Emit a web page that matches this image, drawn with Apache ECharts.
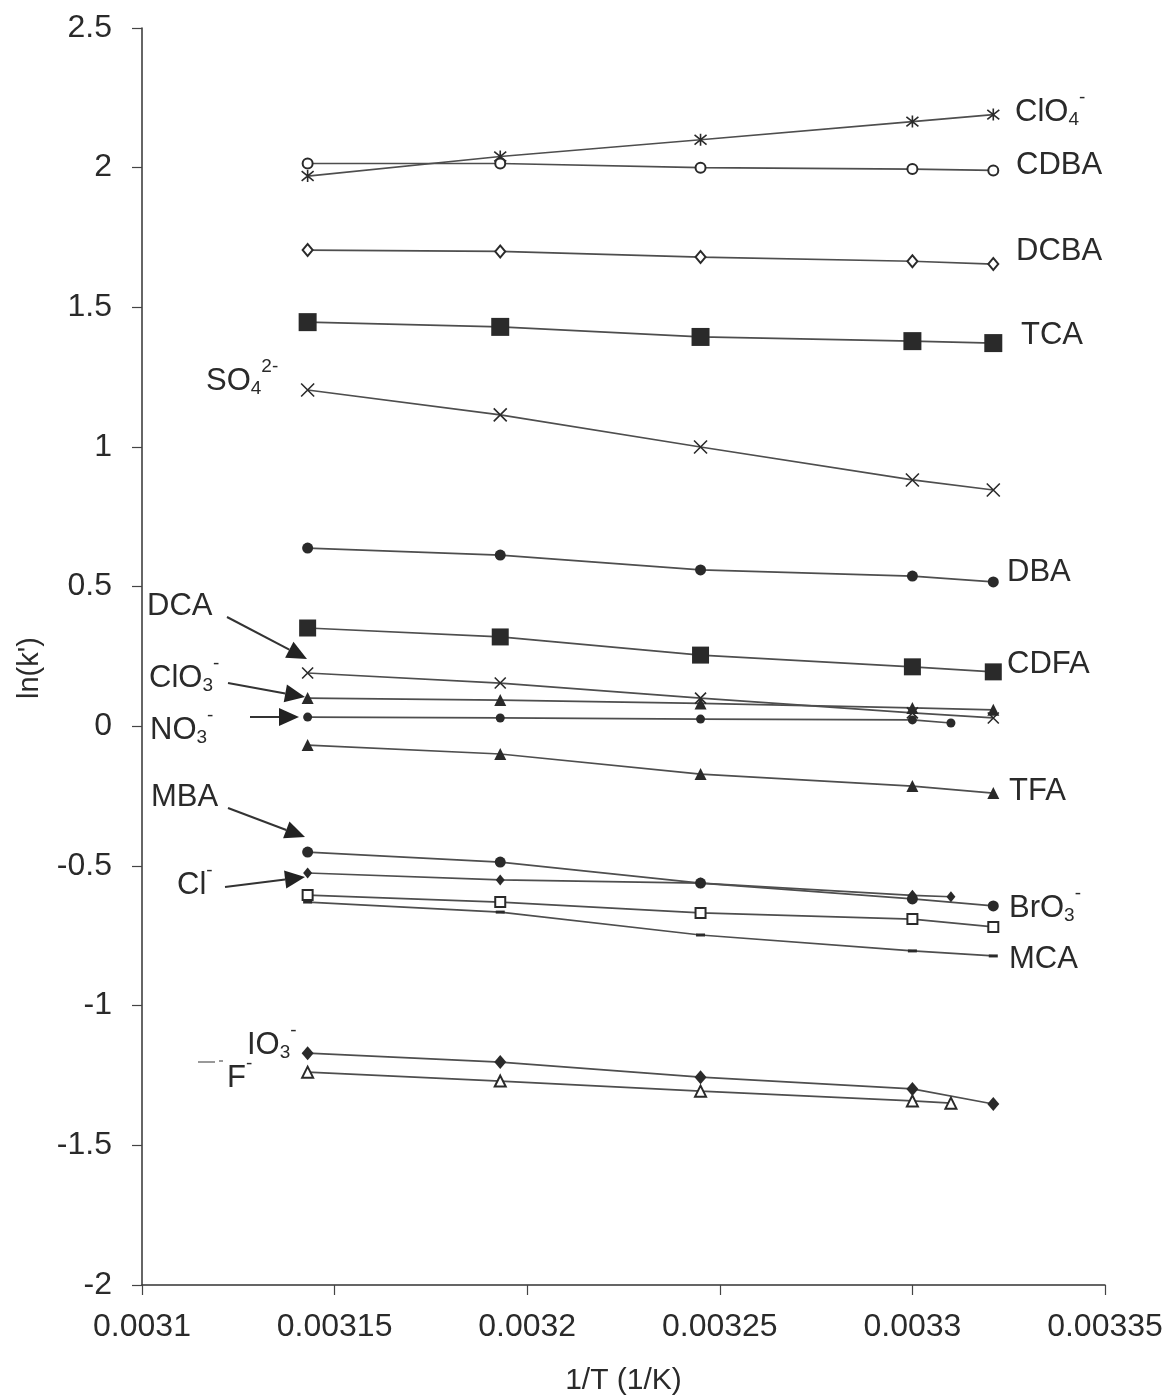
<!DOCTYPE html>
<html>
<head>
<meta charset="utf-8">
<script src="https://cdn.jsdelivr.net/npm/echarts@6/dist/echarts.min.js"></script>
<style>
  html, body { margin: 0; padding: 0; background: #fff; }
  #chart { width: 1171px; height: 1400px; }
</style>
</head>
<body>
<div id="chart"></div>
<script>
// Reciprocal column temperatures, 1/T (1/K)
const invT = [0.003143, 0.003193, 0.003245, 0.0033, 0.003321];
const invTWithExtra = [0.003143, 0.003193, 0.003245, 0.0033, 0.00331];

// Axis ticks
const xTicks = [0.0031, 0.00315, 0.0032, 0.00325, 0.0033, 0.00335];
const yTicks = [-2, -1.5, -1, -0.5, 0, 0.5, 1, 1.5, 2, 2.5];

// ln(k') for each analyte
const lnK_ClO4 = [1.97, 2.04, 2.10, 2.165, 2.19];
const lnK_CDBA = [2.015, 2.015, 2.0, 1.995, 1.99];
const lnK_DCBA = [1.705, 1.70, 1.68, 1.665, 1.655];
const lnK_TCA  = [1.447, 1.43, 1.394, 1.379, 1.372];
const lnK_SO4  = [1.204, 1.115, 1.0, 0.882, 0.846];
const lnK_DBA  = [0.638, 0.613, 0.56, 0.538, 0.517];
const lnK_CDFA = [0.352, 0.32, 0.255, 0.213, 0.195];
const lnK_DCA  = [0.191, 0.155, 0.101, 0.048, 0.03];
const lnK_ClO3 = [0.101, 0.094, 0.082, 0.066, 0.059];
const lnK_NO3  = [0.033, 0.03, 0.026, 0.023, 0.012];
const lnK_TFA  = [-0.067, -0.099, -0.171, -0.214, -0.239];
const lnK_MBA  = [-0.45, -0.486, -0.561, -0.618, -0.643];
const lnK_Cl   = [-0.525, -0.55, -0.561, -0.605, -0.61];
const lnK_BrO3 = [-0.604, -0.629, -0.668, -0.69, -0.718];
const lnK_MCA  = [-0.629, -0.665, -0.747, -0.804, -0.822];
const lnK_IO3  = [-1.17, -1.202, -1.256, -1.298, -1.352];
const lnK_F    = [-1.238, -1.27, -1.306, -1.341, -1.349];

const INK = '#2a2a2a';
const LINE = '#4e4e4e';
const FONT = '"Liberation Sans", Arial, sans-serif';

const SYM_ASTERISK = 'path://M1,1L9,9M9,1L1,9M5,0L5,10';
const SYM_CROSS = 'path://M0,0L10,10M10,0L0,10';

function pairs(xs, ys) { return ys.map((v, i) => [xs[i], v]); }

function lineSeries(name, xs, ys, symbol, size, opts) {
  opts = opts || {};
  return {
    name: name,
    type: 'line',
    data: pairs(xs, ys),
    symbol: symbol,
    symbolSize: size,
    showAllSymbol: true,
    lineStyle: { color: LINE, width: 1.7 },
    itemStyle: Object.assign({ color: INK, borderColor: INK, borderWidth: opts.stroke ? 1.6 : 0 }, opts.item || {}),
    emphasis: { disabled: true },
    z: 2
  };
}

const series = [
  lineSeries('ClO4-', invT, lnK_ClO4, SYM_ASTERISK, 12, { stroke: true }),
  lineSeries('CDBA', invT, lnK_CDBA, 'emptyCircle', 10, { item: { borderWidth: 1.5 } }),
  lineSeries('DCBA', invT, lnK_DCBA, 'emptyDiamond', [10, 12], { item: { borderWidth: 1.5 } }),
  lineSeries('TCA', invT, lnK_TCA, 'rect', 18),
  lineSeries('SO42-', invT, lnK_SO4, SYM_CROSS, 13, { stroke: true }),
  lineSeries('DBA', invT, lnK_DBA, 'circle', 11),
  lineSeries('CDFA', invT, lnK_CDFA, 'rect', 17),
  lineSeries('DCA', invT, lnK_DCA, SYM_CROSS, 11, { stroke: true }),
  lineSeries('ClO3-', invT, lnK_ClO3, 'triangle', 12),
  lineSeries('NO3-', invTWithExtra, lnK_NO3, 'circle', 9),
  lineSeries('TFA', invT, lnK_TFA, 'triangle', 12),
  lineSeries('MBA', invT, lnK_MBA, 'circle', 11),
  lineSeries('Cl-', invTWithExtra, lnK_Cl, 'diamond', [9, 11]),
  lineSeries('BrO3-', invT, lnK_BrO3, 'emptyRect', 10, { item: { borderWidth: 1.5 } }),
  lineSeries('MCA', invT, lnK_MCA, 'rect', [9, 3]),
  lineSeries('IO3-', invT, lnK_IO3, 'diamond', [12, 14]),
  lineSeries('F-', invTWithExtra, lnK_F, 'emptyTriangle', 11, { item: { borderWidth: 1.5 } })
];

// ---- text annotations with sub/superscripts ----
const measureCtx = document.createElement('canvas').getContext('2d');
function textWidth(s, size) {
  measureCtx.font = size + 'px ' + FONT;
  return measureCtx.measureText(s).width;
}
function textEl(s, x, y, size, align) {
  return {
    type: 'text', x: x, y: y, silent: true,
    style: {
      text: s, fill: INK, font: size + 'px ' + FONT,
      align: align || 'left', verticalAlign: 'middle',
      textAlign: align || 'left', textVerticalAlign: 'middle'
    }
  };
}
// parts: [text, 'sub' | 'sup' | undefined]
function chem(parts, x, y) {
  const base = 31, small = 19;
  const out = [];
  let cx = x;
  parts.forEach(p => {
    const kind = p[1];
    const fs = kind ? small : base;
    const dy = kind === 'sub' ? 8 : (kind === 'sup' ? -14 : 0);
    out.push(textEl(p[0], cx, y + dy, fs));
    cx += textWidth(p[0], fs);
  });
  return out;
}
function arrow(x1, y1, x2, y2) {
  const dx = x2 - x1, dy = y2 - y1;
  const len = Math.sqrt(dx * dx + dy * dy);
  const ux = dx / len, uy = dy / len;
  const headLen = 20, half = 9;
  const bx = x2 - ux * headLen, by = y2 - uy * headLen;
  return [
    { type: 'line', silent: true, shape: { x1: x1, y1: y1, x2: bx, y2: by },
      style: { stroke: '#333', lineWidth: 2 } },
    { type: 'polygon', silent: true,
      shape: { points: [[x2, y2], [bx - uy * half, by + ux * half], [bx + uy * half, by - ux * half]] },
      style: { fill: '#222' } }
  ];
}

const annotations = [].concat(
  chem([['ClO'], ['4', 'sub'], ['-', 'sup']], 1015, 112),
  chem([['CDBA']], 1016, 165),
  chem([['DCBA']], 1016, 251),
  chem([['TCA']], 1021, 335),
  chem([['SO'], ['4', 'sub'], ['2-', 'sup']], 206, 381),
  chem([['DBA']], 1007, 572),
  chem([['CDFA']], 1007, 664),
  chem([['TFA']], 1009, 791),
  chem([['BrO'], ['3', 'sub'], ['-', 'sup']], 1009, 908),
  chem([['MCA']], 1009, 959),
  chem([['DCA']], 147, 606),
  chem([['ClO'], ['3', 'sub'], ['-', 'sup']], 149, 678),
  chem([['NO'], ['3', 'sub'], ['-', 'sup']], 150, 730),
  chem([['MBA']], 151, 797),
  chem([['Cl'], ['-', 'sup']], 177, 885),
  chem([['IO'], ['3', 'sub'], ['-', 'sup']], 247, 1045),
  chem([['F'], ['-', 'sup']], 227, 1078),
  arrow(227, 617, 307, 659),
  arrow(228, 683, 305, 697),
  arrow(250, 717, 299, 717),
  arrow(228, 808, 305, 837),
  arrow(225, 887, 305, 877),
  [
    { type: 'line', silent: true, shape: { x1: 198, y1: 1062, x2: 215, y2: 1062 }, style: { stroke: '#777', lineWidth: 1.5 } },
    { type: 'line', silent: true, shape: { x1: 219, y1: 1061, x2: 223, y2: 1061 }, style: { stroke: '#777', lineWidth: 1.5 } },
    {
      type: 'text', x: 30, y: 668, rotation: Math.PI / 2, silent: true,
      style: { text: "ln(k')", fill: INK, font: '29px ' + FONT, align: 'center', verticalAlign: 'middle',
               textAlign: 'center', textVerticalAlign: 'middle' }
    }
  ]
);

function fmt(v, digits) { return String(parseFloat(v.toFixed(digits))); }

const chart = echarts.init(document.getElementById('chart'), null, { renderer: 'canvas' });
chart.setOption({
  animation: false,
  backgroundColor: '#fff',
  grid: { left: 142, right: 66, top: 28, bottom: 115, containLabel: false, outerBoundsMode: 'none' },
  xAxis: {
    type: 'value',
    min: xTicks[0], max: xTicks[xTicks.length - 1], interval: xTicks[1] - xTicks[0],
    name: '1/T (1/K)', nameLocation: 'middle', nameGap: 81,
    nameTextStyle: { color: INK, fontSize: 30, fontFamily: FONT },
    axisLine: { show: true, onZero: false, lineStyle: { color: '#333', width: 1.5 } },
    axisTick: { show: true, inside: false, length: 10, lineStyle: { color: '#444', width: 1.2 } },
    axisLabel: { color: INK, fontSize: 32, fontFamily: FONT, margin: 26, formatter: v => fmt(v, 6) },
    splitLine: { show: false }
  },
  yAxis: {
    type: 'value',
    min: yTicks[0], max: yTicks[yTicks.length - 1], interval: yTicks[1] - yTicks[0],
    axisLine: { show: true, onZero: false, lineStyle: { color: '#333', width: 1.5 } },
    axisTick: { show: true, inside: false, length: 10, lineStyle: { color: '#444', width: 1.2 } },
    axisLabel: { color: INK, fontSize: 32, fontFamily: FONT, margin: 30, formatter: v => fmt(v, 2) },
    splitLine: { show: false }
  },
  series: series,
  graphic: { elements: annotations }
});
</script>
</body>
</html>
